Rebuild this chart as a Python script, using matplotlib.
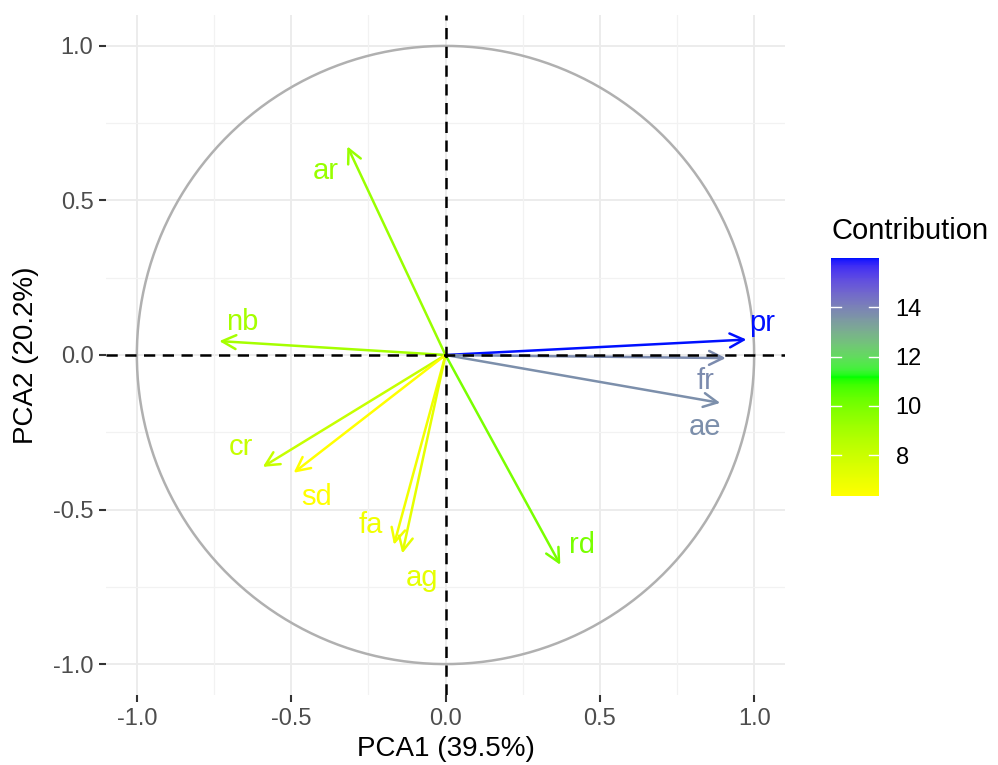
import numpy as np
import matplotlib
matplotlib.use("Agg")
import matplotlib.pyplot as plt
from matplotlib.colors import ListedColormap, Normalize

plt.rcParams['font.family'] = ['Liberation Sans', 'DejaVu Sans']

# variable coordinates on the first two components
var_names = ["pr", "fr", "ae", "ar", "nb", "cr", "sd", "fa", "ag", "rd"]
pc1 = [0.975, 0.908, 0.890, -0.318, -0.733, -0.592, -0.492, -0.167, -0.140, 0.372]
pc2 = [0.050, -0.010, -0.155, 0.675, 0.045, -0.362, -0.381, -0.614, -0.642, -0.679]
contrib = [16.0, 13.8, 13.7, 9.3, 9.0, 8.1, 6.34, 6.8, 7.2, 10.0]

# label offsets (data units) from arrow tips
label_dx = [0.052, -0.065, -0.048, -0.071, 0.074, -0.071, 0.074, -0.074, 0.065, 0.071]
label_dy = [0.055, -0.074, -0.078, -0.081, 0.063, 0.065, -0.078, 0.065, -0.078, 0.065]

xlabel = "PCA1 (39.5%)"
ylabel = "PCA2 (20.2%)"
grad_cols = ["#FFFF00", "#00FF00", "#0010FF"]


# ggplot-like gradient: interpolate in CIE Lab
M = np.array([[0.4124564, 0.3575761, 0.1804375],
              [0.2126729, 0.7151522, 0.0721750],
              [0.0193339, 0.1191920, 0.9503041]])
WHITE = np.array([0.95047, 1.0, 1.08883])


def to_lab(hexcol):
    rgb = np.array(matplotlib.colors.to_rgb(hexcol))
    lin = np.where(rgb <= 0.04045, rgb / 12.92, ((rgb + 0.055) / 1.055) ** 2.4)
    t = (M @ lin) / WHITE
    d = 6 / 29
    f = np.where(t > d ** 3, np.cbrt(t), t / (3 * d * d) + 4 / 29)
    return np.array([116 * f[1] - 16, 500 * (f[0] - f[1]), 200 * (f[1] - f[2])])


def from_lab(lab):
    L, a, b = lab
    fy = (L + 16) / 116
    fx = fy + a / 500
    fz = fy - b / 200
    d = 6 / 29
    f = np.array([fx, fy, fz])
    t = np.where(f > d, f ** 3, 3 * d * d * (f - 4 / 29)) * WHITE
    lin = np.linalg.solve(M, t)
    lin = np.clip(lin, 0, 1)
    rgb = np.where(lin <= 0.0031308, lin * 12.92, 1.055 * lin ** (1 / 2.4) - 0.055)
    return np.clip(rgb, 0, 1)


labs = [to_lab(c) for c in grad_cols]
samples = []
for t in np.linspace(0, 1, 256):
    seg = min(int(t * 2), 1)
    u = t * 2 - seg
    samples.append(from_lab(labs[seg] * (1 - u) + labs[seg + 1] * u))
cmap = ListedColormap(samples)
norm = Normalize(min(contrib), max(contrib))

fig = plt.figure(figsize=(9.98, 7.65), dpi=100)
ax = fig.add_axes([0.1062, 0.0915, 0.6804, 0.8889])

for v in [-1, -0.5, 0, 0.5, 1]:
    ax.axvline(v, color="#EBEBEB", lw=1.3, zorder=0)
    ax.axhline(v, color="#EBEBEB", lw=1.3, zorder=0)
for v in [-0.75, -0.25, 0.25, 0.75]:
    ax.axvline(v, color="#F2F2F2", lw=0.9, zorder=0)
    ax.axhline(v, color="#F2F2F2", lw=0.9, zorder=0)

theta = np.linspace(0, 2 * np.pi, 200)
ax.plot(np.cos(theta), np.sin(theta), color="#B0B0B0", lw=1.8, zorder=1)

for i, name in enumerate(var_names):
    col = cmap(norm(contrib[i]))
    ax.annotate("", xy=(pc1[i], pc2[i]), xytext=(0, 0),
                arrowprops=dict(arrowstyle="->,head_length=0.5,head_width=0.25",
                                color=col, lw=1.8, mutation_scale=20,
                                shrinkA=0, shrinkB=0), zorder=2)
    ax.text(pc1[i] + label_dx[i], pc2[i] + label_dy[i], name, color=col,
            fontsize=21, ha="center", va="center", zorder=3)

ax.axhline(0, color="black", lw=1.8, ls=(0, (4.5, 3)), zorder=4)
ax.axvline(0, color="black", lw=1.8, ls=(0, (4.5, 3)), zorder=4)

ax.set_xlim(-1.1, 1.1)
ax.set_ylim(-1.1, 1.1)
ax.set_xticks([-1, -0.5, 0, 0.5, 1])
ax.set_yticks([-1, -0.5, 0, 0.5, 1])
ax.set_xticklabels(["-1.0", "-0.5", "0.0", "0.5", "1.0"])
ax.set_yticklabels(["-1.0", "-0.5", "0.0", "0.5", "1.0"])
ax.tick_params(length=5, width=1.5, color="#333333", labelcolor="#4D4D4D",
               labelsize=17, pad=4)
for s in ax.spines.values():
    s.set_visible(False)
ax.set_xlabel(xlabel, fontsize=20, labelpad=5)
ax.set_ylabel(ylabel, fontsize=20, labelpad=10)

cax = fig.add_axes([0.8327, 0.3516, 0.0481, 0.3111])
sm = matplotlib.cm.ScalarMappable(norm=norm, cmap=cmap)
cb = fig.colorbar(sm, cax=cax, ticks=[8, 10, 12, 14])
cb.outline.set_visible(False)
cax.tick_params(length=0, labelsize=17, pad=12)
for v in [8, 10, 12, 14]:
    cax.plot([0, 0.2], [v, v], color="white", lw=1, transform=cax.get_yaxis_transform())
    cax.plot([0.8, 1], [v, v], color="white", lw=1, transform=cax.get_yaxis_transform())
fig.text(0.8327, 0.698, "Contribution", fontsize=21, ha="left", va="center")

fig.savefig("out.png", dpi=100)
